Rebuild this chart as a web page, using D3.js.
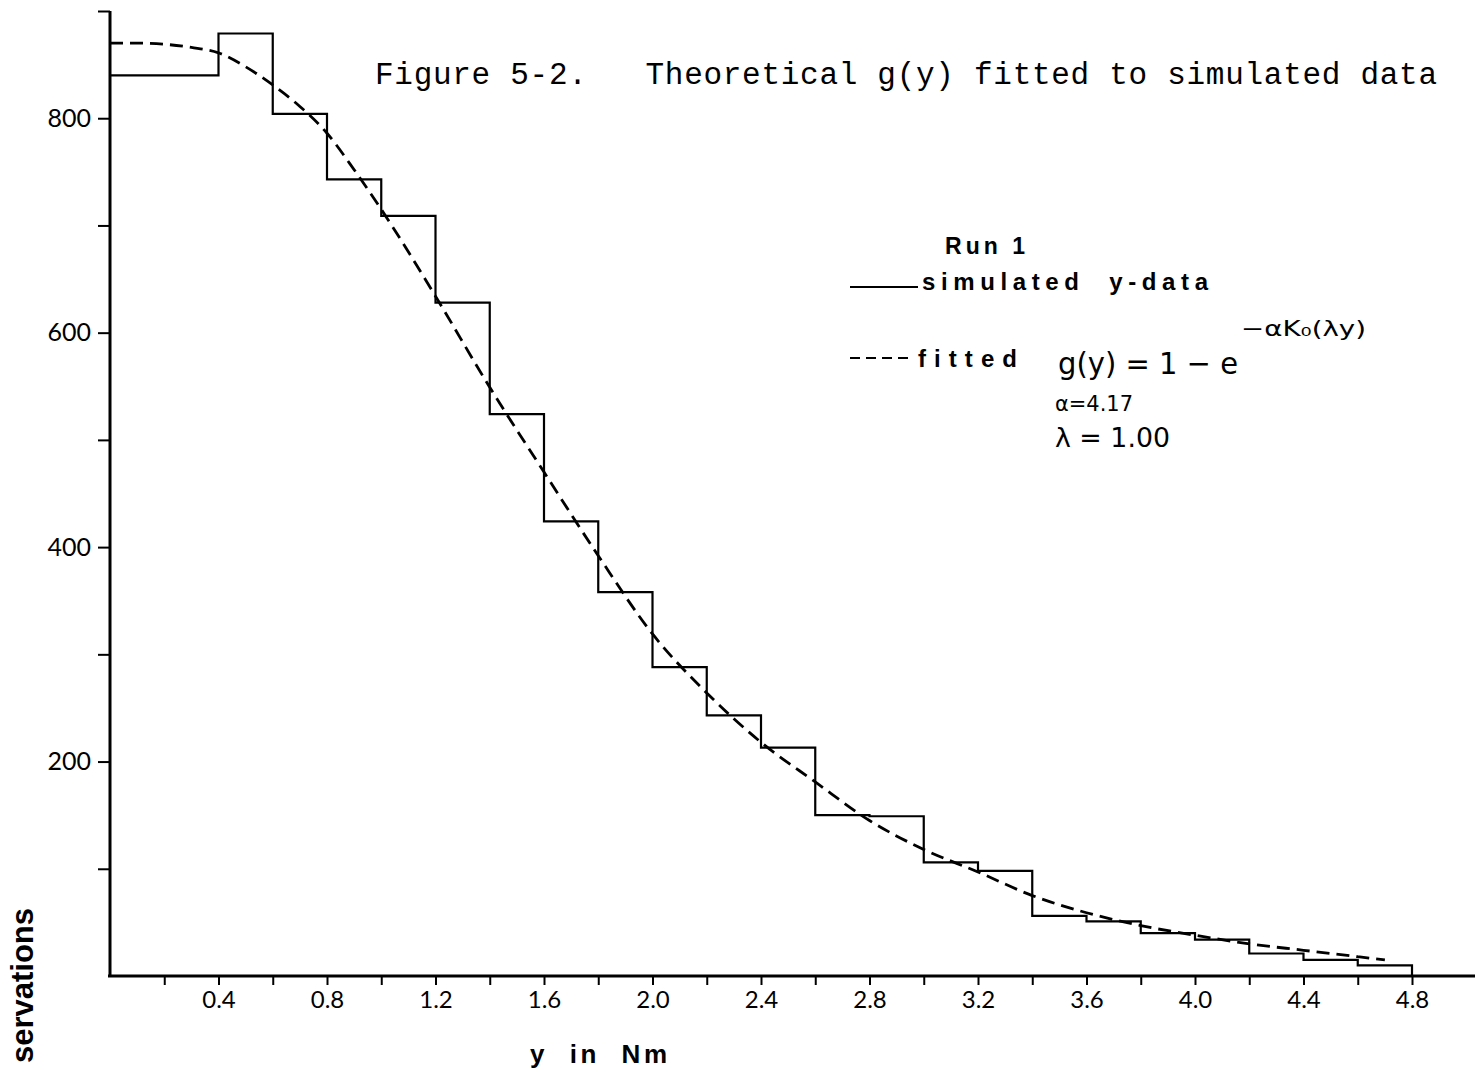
<!DOCTYPE html>
<html>
<head>
<meta charset="utf-8">
<script src="https://cdn.jsdelivr.net/npm/d3@7"></script>
<style>
body { margin: 0; background: #fff; }
svg { display: block; }
text { white-space: pre; }
</style>
</head>
<body>
<svg width="1475" height="1072"></svg>
<script>
// simulated y-data, bins of width 0.2 (left edge) and counts
let binStart = [0, 0.2, 0.4, 0.6, 0.8, 1.0, 1.2, 1.4, 1.6, 1.8, 2.0, 2.2,
                2.4, 2.6, 2.8, 3.0, 3.2, 3.4, 3.6, 3.8, 4.0, 4.2, 4.4, 4.6]
let counts = [840, 840, 879, 804, 743, 709, 628, 524, 424, 358, 288, 243,
              213, 150, 149, 106, 98, 56, 51, 40, 34, 21, 15, 10]
let binEnd = 4.8

// fitted g(y) curve, read at a few points
let fitX = [0, 0.1, 0.2, 0.3, 0.4, 0.5, 0.6, 0.7, 0.8, 0.9, 1.0, 1.2, 1.4, 1.6, 1.8,
            2.0, 2.2, 2.4, 2.6, 2.8, 3.0, 3.2, 3.4, 3.6, 3.8, 4.0, 4.2, 4.4, 4.6, 4.7]
let fitY = [870, 870, 869, 866, 861, 848, 831, 811, 786, 752, 715, 634, 549, 470, 392,
            319, 264, 218, 181, 145, 118, 97, 75, 59, 47, 38, 30, 24, 18, 15]

// ticks
let xTicks = [0.2, 0.4, 0.6, 0.8, 1.0, 1.2, 1.4, 1.6, 1.8, 2.0, 2.2, 2.4,
              2.6, 2.8, 3.0, 3.2, 3.4, 3.6, 3.8, 4.0, 4.2, 4.4, 4.6, 4.8]
let xLabels = ["0.4", "0.8", "1.2", "1.6", "2.0", "2.4", "2.8", "3.2", "3.6", "4.0", "4.4", "4.8"]
let yTicks = [100, 200, 300, 400, 500, 600, 700, 800, 900]
let yLabels = ["200", "400", "600", "800"]

let svg = d3.select("svg")

let x = d3.scaleLinear().domain([0, 4.8]).range([110, 1412])
let y = d3.scaleLinear().domain([0, 900]).range([976, 11])

let numFont = "Lato, 'Noto Sans', sans-serif"
let boldFont = "'Liberation Sans', Arial, sans-serif"
let handFont = "'DejaVu Sans', 'Noto Sans', sans-serif"

// x axis
let xAxis = d3.axisBottom(x)
    .tickValues(xTicks)
    .tickSize(9)
    .tickPadding(6)
    .tickFormat(d => xLabels.includes(d.toFixed(1)) ? d.toFixed(1) : "")
let gx = svg.append("g").attr("transform", "translate(0,976)").call(xAxis)
gx.select(".domain").remove()
gx.selectAll("line").attr("stroke", "#000").attr("stroke-width", 2)
gx.selectAll("text")
    .attr("font-family", numFont)
    .attr("font-size", 24)
    .attr("fill", "#000")

svg.append("line")
    .attr("x1", 108).attr("x2", 1475)
    .attr("y1", 976).attr("y2", 976)
    .attr("stroke", "#000").attr("stroke-width", 3)

// y axis
let yAxis = d3.axisLeft(y)
    .tickValues(yTicks)
    .tickSize(12)
    .tickPadding(7)
    .tickFormat(d => yLabels.includes(String(d)) ? d : "")
let gy = svg.append("g").attr("transform", "translate(110,0)").call(yAxis)
gy.select(".domain").remove()
gy.selectAll("line").attr("stroke", "#000").attr("stroke-width", 2)
gy.selectAll("text")
    .attr("font-family", numFont)
    .attr("font-size", 25)
    .attr("fill", "#000")

svg.append("line")
    .attr("x1", 110).attr("x2", 110)
    .attr("y1", y(900)).attr("y2", 977)
    .attr("stroke", "#000").attr("stroke-width", 3)

// histogram as a step line
let steps = binStart.map((b, i) => [b, counts[i]])
steps.push([binEnd, counts[counts.length - 1]])
steps.push([binEnd, 0])

let stepLine = d3.line()
    .x(d => x(d[0]))
    .y(d => y(d[1]))
    .curve(d3.curveStepAfter)

svg.append("path")
    .datum(steps)
    .attr("d", stepLine)
    .attr("fill", "none")
    .attr("stroke", "#000")
    .attr("stroke-width", 2.2)

// fitted curve, dashed
let fitLine = d3.line()
    .x((d, i) => x(fitX[i]))
    .y(d => y(d))
    .curve(d3.curveMonotoneX)

svg.append("path")
    .datum(fitY)
    .attr("d", fitLine)
    .attr("fill", "none")
    .attr("stroke", "#000")
    .attr("stroke-width", 2.8)
    .attr("stroke-dasharray", "13,7")

// title
svg.append("text")
    .attr("x", 375).attr("y", 84)
    .attr("font-family", "'Liberation Mono', 'DejaVu Sans Mono', monospace")
    .attr("font-size", 31)
    .attr("textLength", 1062)
    .attr("lengthAdjust", "spacing")
    .text("Figure 5-2.   Theoretical g(y) fitted to simulated data")

// legend
svg.append("text")
    .attr("x", 945).attr("y", 254)
    .attr("font-family", boldFont).attr("font-weight", "bold")
    .attr("font-size", 23)
    .attr("textLength", 80).attr("lengthAdjust", "spacing")
    .text("Run 1")

svg.append("line")
    .attr("x1", 850).attr("x2", 918)
    .attr("y1", 287).attr("y2", 287)
    .attr("stroke", "#000").attr("stroke-width", 2)

svg.append("text")
    .attr("x", 922).attr("y", 290)
    .attr("font-family", boldFont).attr("font-weight", "bold")
    .attr("font-size", 24)
    .attr("textLength", 286).attr("lengthAdjust", "spacing")
    .text("simulated  y-data")

svg.append("line")
    .attr("x1", 850).attr("x2", 914)
    .attr("y1", 358).attr("y2", 358)
    .attr("stroke", "#000").attr("stroke-width", 2)
    .attr("stroke-dasharray", "10,6")

svg.append("text")
    .attr("x", 918).attr("y", 367)
    .attr("font-family", boldFont).attr("font-weight", "bold")
    .attr("font-size", 24)
    .attr("textLength", 99).attr("lengthAdjust", "spacing")
    .text("fitted")

// formula, hand lettered in the original
svg.append("text")
    .attr("x", 1058).attr("y", 374)
    .attr("font-family", handFont)
    .attr("font-size", 31)
    .attr("textLength", 180).attr("lengthAdjust", "spacingAndGlyphs")
    .text("g(y) = 1 − e")

svg.append("text")
    .attr("x", 1241).attr("y", 336)
    .attr("font-family", handFont)
    .attr("font-size", 22)
    .attr("textLength", 125).attr("lengthAdjust", "spacingAndGlyphs")
    .text("−αK₀(λy)")

svg.append("text")
    .attr("x", 1055).attr("y", 411)
    .attr("font-family", handFont)
    .attr("font-size", 22)
    .attr("textLength", 78).attr("lengthAdjust", "spacingAndGlyphs")
    .text("α=4.17")

svg.append("text")
    .attr("x", 1055).attr("y", 447)
    .attr("font-family", handFont)
    .attr("font-size", 26)
    .attr("textLength", 115).attr("lengthAdjust", "spacingAndGlyphs")
    .text("λ = 1.00")

// axis titles
svg.append("text")
    .attr("x", 530).attr("y", 1063)
    .attr("font-family", boldFont).attr("font-weight", "bold")
    .attr("font-size", 26)
    .attr("textLength", 137).attr("lengthAdjust", "spacing")
    .text("y  in  Nm")

// y title: the reference shows only the tail of the word, trimmed by the page edge
svg.append("text")
    .attr("transform", "translate(33,908) rotate(-90)")
    .attr("text-anchor", "end")
    .attr("font-family", boldFont).attr("font-weight", "bold")
    .attr("font-size", 31)
    .text("servations")
</script>
</body>
</html>
